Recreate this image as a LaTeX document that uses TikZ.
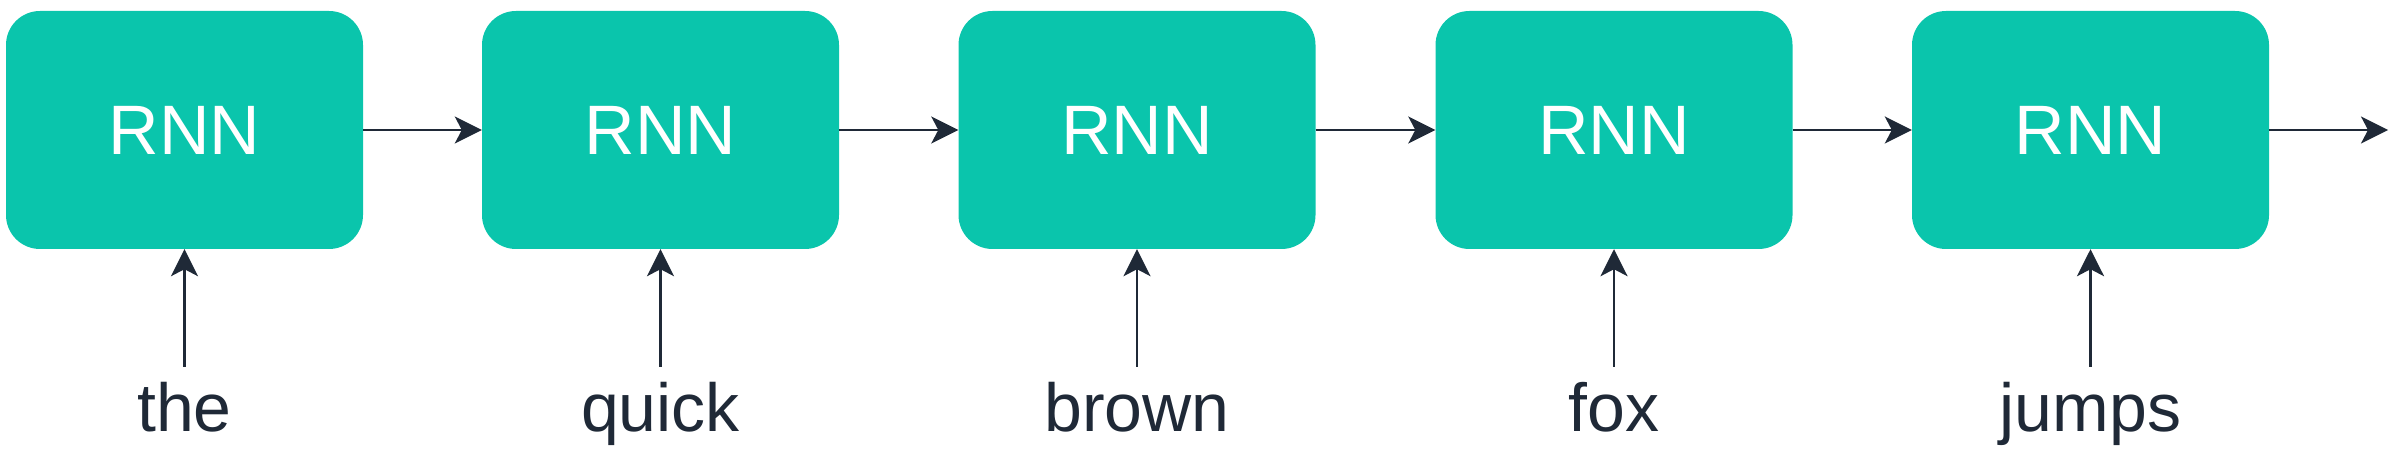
\documentclass[tikz,border=0pt]{standalone}
\usepackage{fontspec}
\setmainfont{Liberation Sans}
\usetikzlibrary{arrows.meta}
\definecolor{boxfill}{HTML}{0AC5AC}
\definecolor{ink}{HTML}{1F2937}
\begin{document}
\begin{tikzpicture}[x=1pt,y=1pt,
  rnnbox/.style={fill=boxfill, draw=none, rounded corners=34pt, minimum width=357pt, minimum height=238pt, inner sep=0pt, text=white, font=\fontsize{70}{84}\selectfont},
  word/.style={anchor=base, text=ink, font=\fontsize{68}{80}\selectfont, inner sep=0pt},
  conn/.style={draw=ink, line width=2.6pt, -{Stealth[length=27pt, width=27pt, inset=7pt]}}
]
\useasboundingbox (0,0) rectangle (2400,457);
\foreach \i/\x/\w in {1/184.5/the, 2/660.5/quick, 3/1137/brown, 4/1614/fox, 5/2090.5/jumps} {
  \node[rnnbox] (r\i) at (\x,327) {RNN};
  \node[word] (w\i) at (\x,25) {\w};
  \coordinate (s\i) at (\x,90);
  \draw[conn] (s\i) -- (r\i.south);
}
\coordinate (out) at (2388,327);
\draw[conn] (r1.east) -- (r2.west);
\draw[conn] (r2.east) -- (r3.west);
\draw[conn] (r3.east) -- (r4.west);
\draw[conn] (r4.east) -- (r5.west);
\draw[conn] (r5.east) -- (out);
\end{tikzpicture}
\end{document}
